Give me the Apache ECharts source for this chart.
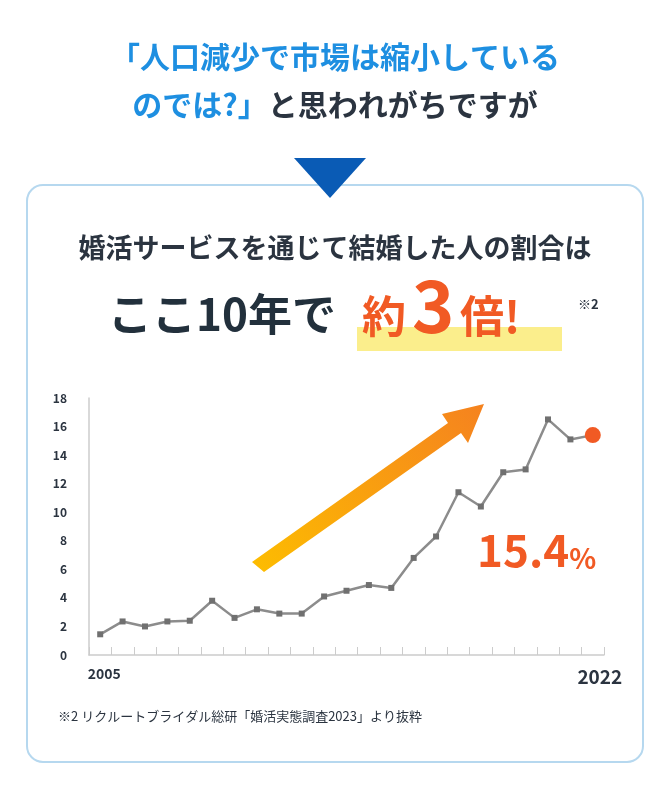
<!DOCTYPE html>
<html><head><meta charset="utf-8">
<script src="https://cdn.jsdelivr.net/npm/echarts@6/dist/echarts.min.js"></script>
<style>html,body{margin:0;padding:0;background:#fff}#c{width:670px;height:799px}</style>
</head><body><div id="c"></div>
<script>
// 調査回ごとの割合 (%)
var periods = ['2005','','','','','','','','','','','','','','','','','','','','','','2022'];
var rates = [1.45, 2.35, 2.0, 2.35, 2.4, 3.8, 2.6, 3.2, 2.9, 2.9, 4.1, 4.5, 4.9, 4.7, 6.8, 8.3, 11.4, 10.4, 12.8, 13.0, 16.5, 15.1, 15.4];
var yTicks = [0, 18, 2];

var F = '"Noto Sans CJK JP", "Noto Sans", sans-serif';
var chart = echarts.init(document.getElementById('c'));

var pts = rates.map(function (v, i) {
    if (i === rates.length - 1) {
        return {value: v, symbol: 'circle', symbolSize: 16, itemStyle: {color: '#f15a24'}};
    }
    return v;
});

var option = {
    animation: false,
    grid: {left: 89, right: 66, top: 398, bottom: 144},
    xAxis: {
        type: 'category',
        data: periods,
        boundaryGap: true,
        axisLine: {lineStyle: {color: '#cccccc', width: 1.5}},
        axisTick: {show: true, interval: 0, length: 8, inside: true, lineStyle: {color: '#cccccc'}},
        axisLabel: {
            interval: 0, margin: 12,
            formatter: function (v, i) {
                if (i === 0) return '{a|' + v + '}';
                if (i === periods.length - 1) return '{b|' + v + '}';
                return '';
            },
            rich: {
                a: {fontFamily: F, fontSize: 14, fontWeight: 'bold', color: '#2b3440', padding: [0, 0, 0, 8]},
                b: {fontFamily: F, fontSize: 19, fontWeight: 'bold', color: '#2b3440', padding: [0, 0, 0, 14]}
            }
        }
    },
    yAxis: {
        type: 'value',
        min: yTicks[0], max: yTicks[1], interval: yTicks[2],
        axisLine: {show: true, lineStyle: {color: '#cccccc', width: 1.5}},
        axisTick: {show: false},
        splitLine: {show: false},
        axisLabel: {fontFamily: F, fontSize: 12, fontWeight: 'bold', color: '#2b3440', margin: 22}
    },
    series: [{
        type: 'line',
        data: pts,
        symbol: 'rect',
        symbolSize: 6,
        lineStyle: {color: '#8c8c8c', width: 2.5},
        itemStyle: {color: '#707070'}
    }],
    graphic: [
        {type: 'text', left: 'center', top: 42, style: {text: '「人口減少で市場は縮小している', font: 'bold 30px ' + F, fill: '#1e8fe1'}},
        {type: 'text', left: 'center', top: 90, style: {rich: {
            a: {font: 'bold 30px ' + F, fill: '#1e8fe1'},
            b: {font: 'bold 30px ' + F, fill: '#2b3440'}
        }, text: '{a|のでは?」}{b|と思われがちですが}'}},
        {type: 'polygon', shape: {points: [[294, 158], [366, 158], [330, 198]]}, style: {fill: '#0a5bb5'}},
        {type: 'rect', z: -10, shape: {x: 27, y: 185, width: 616, height: 577, r: 16}, style: {fill: '#fff', stroke: '#b6d8ef', lineWidth: 2}},
        {type: 'text', left: 'center', top: 234, style: {text: '婚活サービスを通じて結婚した人の割合は', font: 'bold 27px ' + F, fill: '#2b3440'}},
        {type: 'rect', z: -5, shape: {x: 357, y: 327, width: 205, height: 24}, style: {fill: '#fbee8c'}},
        {type: 'text', left: 108, top: 292, style: {text: 'ここ10年で', font: 'bold 44px ' + F, fill: '#22303c'}},
        {type: 'text', left: 362, top: 294, style: {text: '約', font: 'bold 44px ' + F, fill: '#f15a24'}},
        {type: 'text', left: 412, top: 270, style: {text: '3', font: 'bold 72px ' + F, fill: '#f15a24'}},
        {type: 'text', left: 460, top: 294, style: {text: '倍!', font: 'bold 44px ' + F, fill: '#f15a24'}},
        {type: 'text', left: 578, top: 298, style: {text: '※2', font: 'bold 13px ' + F, fill: '#2b3440'}},
        {type: 'polygon', z: 5, shape: {points: [[252, 562], [448, 423], [442, 414], [484, 404], [468, 443], [461, 433], [264, 572]]},
            style: {fill: new echarts.graphic.LinearGradient(0, 1, 1, 0, [{offset: 0, color: '#fdbd00'}, {offset: 1, color: '#f5821f'}])}},
        {type: 'text', left: 477, top: 528, style: {rich: {
            a: {font: 'bold 44px ' + F, fill: '#f15a24', verticalAlign: 'bottom'},
            b: {font: 'bold 28px ' + F, fill: '#f15a24', verticalAlign: 'bottom'}
        }, text: '{a|15.4}{b|%}'}},
        {type: 'text', left: 58, top: 710, style: {text: '※2 リクルートブライダル総研「婚活実態調査2023」より抜粋', font: '13px ' + F, fill: '#2b3440'}}
    ]
};
chart.setOption(option);
</script>
</body></html>
